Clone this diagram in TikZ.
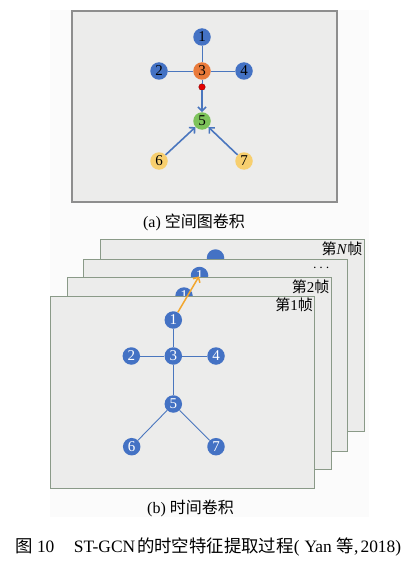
\documentclass[tikz,border=0pt]{standalone}
\usepackage{fontspec}
\setmainfont{Liberation Serif}
\newfontfamily\cjk{Noto Sans CJK SC}
\usetikzlibrary{arrows.meta, positioning}

\definecolor{jointblue}{HTML}{4472C4}
\definecolor{jointorange}{HTML}{E97A3A}
\definecolor{jointgreen}{HTML}{7DC35B}
\definecolor{jointyellow}{HTML}{F7CF6F}
\definecolor{bonecolor}{HTML}{4A76BE}
\definecolor{panelfill}{HTML}{ECECEB}
\definecolor{panelline}{HTML}{8E8E8E}
\definecolor{frameline}{HTML}{8A9A88}
\definecolor{timearrow}{HTML}{F2A62E}
\definecolor{pagebg}{HTML}{FBFBFB}

\begin{document}
\begin{tikzpicture}[x=1pt, y=-1pt, on grid, >={Straight Barb[length=4pt, width=8pt]},
  joint/.style={circle, minimum size=17.5pt, inner sep=0pt, font=\fontsize{15}{15}\selectfont},
  bone/.style={draw=bonecolor, line width=0.9pt},
  flow/.style={->, draw=bonecolor, line width=1.6pt},
  frame/.style={rectangle, draw=frameline, fill=panelfill, line width=0.9pt, minimum width=264pt, minimum height=192pt, inner sep=0pt},
  framelabel/.style={anchor=north east, inner sep=2pt, font=\fontsize{15}{15}\selectfont}]
\useasboundingbox (0,0) rectangle (419,567);
\fill[pagebg] (50,10) rectangle (369,517);

% (a) spatial graph convolution
\node[rectangle, draw=panelline, fill=panelfill, line width=1.3pt, minimum width=265pt, minimum height=191pt] (panelA) at (204.5,106.5) {};
\node[joint, fill=jointorange] (a3) at (202,71) {3};
\node[joint, fill=jointblue, above=34pt of a3] (a1) {1};
\node[joint, fill=jointblue, left=43pt of a3] (a2) {2};
\node[joint, fill=jointblue, right=42pt of a3] (a4) {4};
\node[joint, fill=jointgreen, below=50pt of a3] (a5) {5};
\node[joint, fill=jointyellow, below left=40pt and 43pt of a5] (a6) {6};
\node[joint, fill=jointyellow, below right=40pt and 42pt of a5] (a7) {7};
\node[circle, fill=red!90!black, draw=red!50!black, line width=0.4pt, minimum size=6.5pt, inner sep=0pt, below=16pt of a3] (dot) {};

\draw[bone] (a1) -- (a3);
\draw[bone] (a2) -- (a3);
\draw[bone] (a3) -- (a4);
\draw[bone] (a3) -- (dot);
\draw[flow] (dot) -- (a5);
\draw[flow] (a6) -- (a5);
\draw[flow] (a7) -- (a5);

\node[font=\fontsize{16}{16}\selectfont] (capA) at (194,222.5) {(a) {\cjk 空间图卷积}};

% (b) temporal convolution, frames back to front
\node[frame] (f4) at (232,335.8) {};
\node[framelabel] at (f4.north east) {{\cjk 第}\textit{N}{\cjk 帧}};
\node[joint, fill=jointblue] (n4) at (215.5,258) {};
\node[frame] (f3) at (215.3,355) {};
\node[inner sep=0pt, font=\fontsize{14}{14}\selectfont, below left=6pt and 18pt of f3.north east] (dots) {$\cdots$};
\node[joint, fill=jointblue, text=white] (n3) at (199.5,275.5) {1};
\node[frame] (f2) at (199.2,373.8) {};
\node[framelabel] at (f2.north east) {{\cjk 第}2{\cjk 帧}};
\node[joint, fill=jointblue, text=white] (n2) at (184,296) {1};
\node[frame] (f1) at (182.5,392.5) {};
\node[framelabel] at (f1.north east) {{\cjk 第}1{\cjk 帧}};

\begin{scope}[every node/.append style={joint, fill=jointblue, text=white}]
\node (b3) at (173.3,356) {3};
\node[above=36pt of b3] (b1) {1};
\node[left=42pt of b3] (b2) {2};
\node[right=42.7pt of b3] (b4) {4};
\node[below=48pt of b3] (b5) {5};
\node[below left=42.7pt and 41.6pt of b5] (b6) {6};
\node[below right=42.7pt and 42.7pt of b5] (b7) {7};
\end{scope}

\draw[bone] (b1) -- (b3);
\draw[bone] (b2) -- (b3);
\draw[bone] (b3) -- (b4);
\draw[bone] (b3) -- (b5);
\draw[bone] (b5) -- (b6);
\draw[bone] (b5) -- (b7);
\draw[->, draw=timearrow, line width=1.5pt, shorten >=1pt] (b1) -- (n3.center);

\node[font=\fontsize{16}{16}\selectfont] (capB) at (190.5,508) {(b) {\cjk 时间卷积}};

\node[font=\fontsize{17.4}{17.4}\selectfont] (caption) at (208.4,547) {{\cjk 图}\hspace{4pt}10\hspace{19.5pt}ST-GCN\hspace{2pt}{\cjk 的时空特征提取过程}(\hspace{5pt}Yan\hspace{5pt}{\cjk 等},\hspace{2pt}2018)};
\end{tikzpicture}
\end{document}
